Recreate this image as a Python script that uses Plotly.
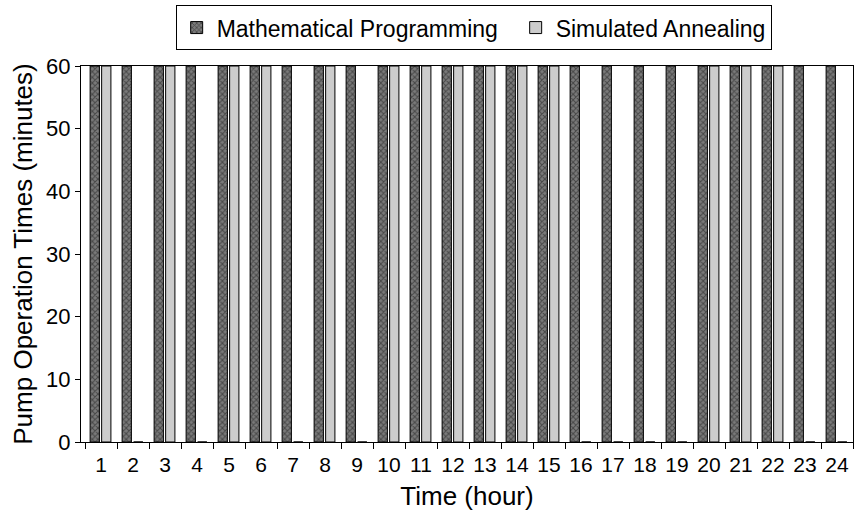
import plotly.graph_objects as go

hours = [str(h) for h in range(1, 25)]
mp_minutes = [60, 60, 60, 60, 60, 60, 60, 60, 60, 60, 60, 60,
              60, 60, 60, 60, 60, 60, 60, 60, 60, 60, 60, 60]
sa_minutes = [60, 0, 60, 0, 60, 60, 0, 60, 0, 60, 60, 60,
              60, 60, 60, 0, 0, 0, 0, 60, 60, 60, 0, 0]
y_ticks = [0, 10, 20, 30, 40, 50, 60]

FONT = "Liberation Sans, Arial, Helvetica, sans-serif"
NB = "\u00a0"

fig = go.Figure()
fig.add_trace(go.Bar(
    x=hours, y=mp_minutes, name="Mathematical Programming" + NB * 2,
    width=0.29, offset=-0.34,
    marker=dict(color="#7a7a7a",
                line=dict(color="black", width=1),
                pattern=dict(shape="x", fgcolor="#151515", size=4, solidity=0.45)),
))
fig.add_trace(go.Bar(
    x=hours, y=sa_minutes, name="Simulated Annealing",
    width=0.29, offset=0.02,
    marker=dict(color="#cccccc", line=dict(color="black", width=1)),
))

fig.update_layout(
    width=855, height=512,
    margin=dict(l=81, r=2, t=66, b=70),
    paper_bgcolor="white", plot_bgcolor="white",
    font=dict(family=FONT, size=22, color="black"),
    barmode="group",
    showlegend=True,
    legend=dict(orientation="h", xref="container", yref="container",
                x=0.554, xanchor="center", y=0.99, yanchor="top",
                bordercolor="black", borderwidth=1, font=dict(size=23),
                itemwidth=30, tracegroupgap=0),
    xaxis=dict(
        type="category", range=[-0.625, 23.5], automargin=False,
        showline=True, linecolor="black", linewidth=1, mirror=True,
        ticks="outside", tickson="boundaries", ticklen=6, tickcolor="black",
        tickangle=0, ticklabelstandoff=4,
        showgrid=False,
        title=dict(text="Time (hour)", standoff=11),
        tickfont=dict(size=21),
    ),
    yaxis=dict(
        range=[0, 60], tickvals=y_ticks, automargin=False,
        showline=True, linecolor="black", linewidth=1, mirror=True,
        ticks="outside", ticklen=5, tickcolor="black",
        showgrid=False, zeroline=False,
        title=dict(text="Pump Operation Times (minutes)", standoff=6),
        tickfont=dict(size=22),
    ),
)

fig.write_html("out.html", config={"displayModeBar": False},
               post_script="document.body.style.margin='0';")
